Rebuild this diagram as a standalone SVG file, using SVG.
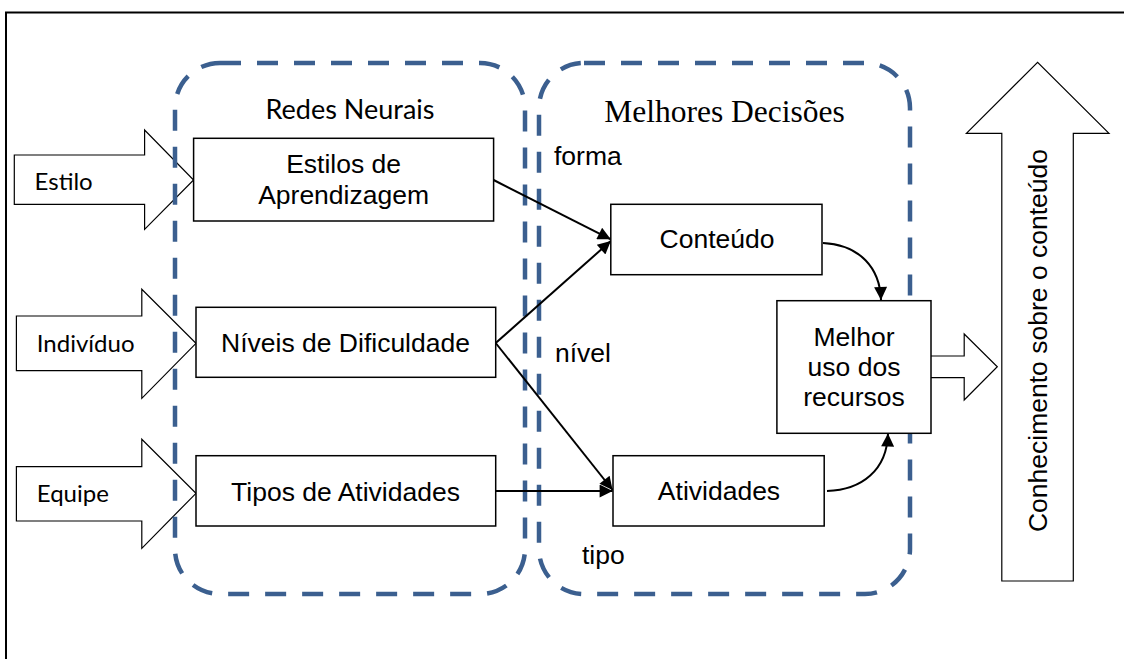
<svg xmlns="http://www.w3.org/2000/svg" width="1124" height="659" viewBox="0 0 1124 659">
<style>
.frame{fill:none;stroke:#000;stroke-width:2}
.hollow{fill:#fff;stroke:#000;stroke-width:1.2}
.dash{fill:none;stroke:#3B5F8F;stroke-width:4.5;stroke-dasharray:21 16}
.box{fill:#fff;stroke:#000;stroke-width:1.5}
.conn{fill:none;stroke:#000;stroke-width:2}
.t{font-family:"Liberation Sans",Arial,sans-serif;font-size:26.5px;fill:#000}
.c{font-family:Lato,"Liberation Sans",sans-serif;font-size:24px;fill:#000}
.s{font-family:"Liberation Serif","Times New Roman",serif;font-size:31.5px;fill:#000}
.m{text-anchor:middle}
</style>
<defs>
<marker id="ah" viewBox="0 0 10 10" refX="10" refY="5" markerWidth="17" markerHeight="13" markerUnits="userSpaceOnUse" orient="auto">
<path d="M0,0 L10,5 L0,10 z" fill="#000"/>
</marker>
</defs>
<rect width="1124" height="659" fill="#fff"/>
<path class="frame" d="M6,659 V12.5 H1124"/>

<g id="input-estilo">
<polygon class="hollow" points="14.3,155 144.6,155 144.6,130 193.6,180 144.6,229.3 144.6,204.3 14.3,204.3"/>
<text class="c" x="34.6" y="190">Estilo</text>
</g>
<g id="input-individuo">
<polygon class="hollow" points="16.4,316 141.8,316 141.8,289.3 196,343.3 141.8,398.3 141.8,370.7 16.4,370.7"/>
<text class="c" x="36.8" y="352">Indivíduo</text>
</g>
<g id="input-equipe">
<polygon class="hollow" points="16.4,466.7 141.8,466.7 141.8,439.3 196,493.3 141.8,548.3 141.8,521 16.4,521"/>
<text class="c" x="36.8" y="502">Equipe</text>
</g>

<g id="group-redes-neurais">
<rect class="dash" x="175" y="63" width="350" height="531" rx="45" ry="45"/>
<text class="c m" x="350" y="119" style="font-size:27px">Redes Neurais</text>
</g>
<g id="group-melhores-decisoes">
<rect class="dash" x="539" y="63" width="371" height="531" rx="45" ry="45"/>
<text class="s m" x="724.5" y="121.7">Melhores Decisões</text>
</g>

<g id="output-arrow">
<polygon class="hollow" points="925,356 964.2,356 964.2,334 997.3,366.7 964.2,400 964.2,377.7 925,377.7"/>
</g>
<g id="conhecimento">
<polygon class="hollow" points="1001.8,581 1001.8,133.3 966.4,133.3 1037.6,62.3 1109,133.3 1073.3,133.3 1073.3,581"/>
<text class="t m" transform="translate(1046.5,340.5) rotate(-90)" x="0" y="0">Conhecimento sobre o conteúdo</text>
</g>

<g id="connectors">
<path class="conn" marker-end="url(#ah)" d="M493.6,180 L610.8,239.3"/>
<path class="conn" marker-end="url(#ah)" d="M495.7,343 L610.8,241"/>
<path class="conn" marker-end="url(#ah)" d="M495.7,343 L612.6,490"/>
<path class="conn" marker-end="url(#ah)" d="M495.7,491 L612.6,491"/>
<path class="conn" marker-end="url(#ah)" d="M823,243 C860,245 880,268 881,300"/>
<path class="conn" marker-end="url(#ah)" d="M827,491 C862,490 887,470 888,433.5"/>
<text class="t" x="554" y="165">forma</text>
<text class="t" x="555" y="362">nível</text>
<text class="t" x="582" y="564">tipo</text>
</g>

<g id="node-estilos">
<rect class="box" x="193.6" y="138.3" width="300" height="82.7"/>
<text class="t m" x="343.6" y="173">Estilos de</text>
<text class="t m" x="343.6" y="204">Aprendizagem</text>
</g>
<g id="node-niveis">
<rect class="box" x="196" y="307.3" width="299.7" height="70"/>
<text class="t m" x="345.5" y="352">Níveis de Dificuldade</text>
</g>
<g id="node-tipos">
<rect class="box" x="196" y="455.7" width="299.7" height="70.3"/>
<text class="t m" x="345.5" y="501">Tipos de Atividades</text>
</g>
<g id="node-conteudo">
<rect class="box" x="610.8" y="204.3" width="211.2" height="70.4"/>
<text class="t m" x="717" y="248">Conteúdo</text>
</g>
<g id="node-atividades">
<rect class="box" x="613" y="455.7" width="211.2" height="70.3"/>
<text class="t m" x="719" y="500">Atividades</text>
</g>
<g id="node-melhor">
<rect class="box" x="776.9" y="300.7" width="154.1" height="132.6"/>
<text class="t m" x="854" y="346">Melhor</text>
<text class="t m" x="854" y="376">uso dos</text>
<text class="t m" x="854" y="406">recursos</text>
</g>
</svg>
